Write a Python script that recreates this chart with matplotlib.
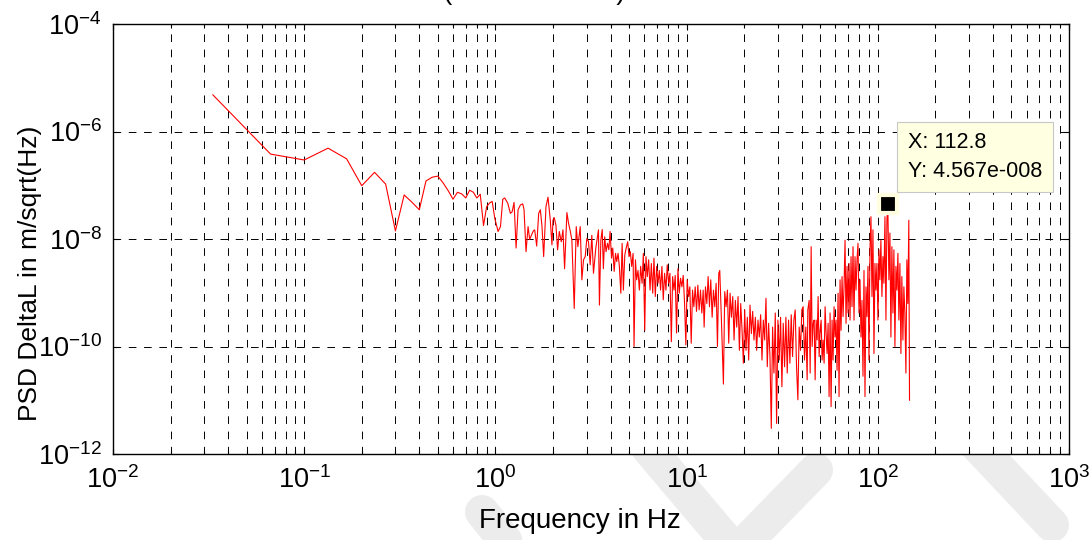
import matplotlib
matplotlib.use('Agg')
import matplotlib.pyplot as plt
from matplotlib.lines import Line2D
from matplotlib.ticker import FixedLocator, FuncFormatter, LogLocator, NullLocator, NullFormatter
import numpy as np

plt.rcParams['font.family'] = ['Liberation Sans', 'DejaVu Sans']
plt.rcParams['mathtext.fontset'] = 'custom'
plt.rcParams['mathtext.rm'] = 'Liberation Sans'
plt.rcParams['mathtext.it'] = 'Liberation Sans:italic'
plt.rcParams['mathtext.bf'] = 'Liberation Sans:bold'
plt.rcParams['lines.scale_dashes'] = False

# spectrum below 1 Hz (bin spacing 1/30 Hz)
freq_low = [0.0333, 0.0667, 0.1, 0.1333, 0.1667, 0.2, 0.2333, 0.2667, 0.3, 0.3333,
            0.3667, 0.4, 0.4333, 0.4667, 0.5, 0.5333, 0.5667, 0.6, 0.6333, 0.6667,
            0.7, 0.7333, 0.7667, 0.8, 0.8333, 0.8667, 0.9, 0.9333]
psd_low = [4.8e-6, 3.8e-7, 2.95e-7, 4.9e-7, 3.1e-7, 9.8e-8, 1.74e-7, 1.05e-7, 1.41e-8, 6.6e-8,
           4.8e-8, 3.5e-8, 1.2e-7, 1.41e-7, 1.48e-7, 1.1e-7, 7.9e-8, 5.5e-8, 7.4e-8, 6.9e-8,
           5.8e-8, 8.1e-8, 7.4e-8, 5.8e-8, 6.8e-8, 1.78e-8, 4.0e-8, 4.7e-8]

# 1 - 3.5 Hz
freq_mid1 = [0.962, 0.993, 1.033, 1.063, 1.093, 1.119, 1.161, 1.198, 1.223, 1.252,
             1.283, 1.314, 1.351, 1.390, 1.412, 1.446, 1.482, 1.511, 1.542, 1.579,
             1.605, 1.644, 1.684, 1.718, 1.753, 1.788, 1.839, 1.884, 1.937, 1.976,
             2.0, 2.032, 2.073, 2.115, 2.158, 2.211, 2.256, 2.301, 2.366, 2.414,
             2.463, 2.512, 2.584, 2.647, 2.700, 2.777, 2.833, 2.890, 2.949, 3.008,
             3.069, 3.131, 3.194, 3.258, 3.351, 3.460]
psd_mid1 = [5.0e-8, 2.4e-8, 1.38e-8, 1.7e-8, 5.5e-8, 5.8e-8, 4.6e-8, 3.0e-8, 3.2e-8, 4.8e-8,
            6.8e-9, 3.5e-8, 4.3e-8, 4.5e-8, 3.5e-8, 5.8e-9, 1.7e-8, 9.8e-9, 1.17e-8, 1.41e-8,
            1.48e-8, 7.4e-9, 3.0e-8, 3.5e-8, 1.7e-8, 4.7e-9, 4.0e-8, 6.0e-8, 2.24e-8, 7.8e-9,
            2.24e-8, 2.5e-8, 1.8e-8, 6.3e-9, 1.38e-8, 8.9e-9, 1.48e-8, 2.8e-9, 3.1e-8, 1.95e-8,
            1.41e-8, 9.5e-9, 5.1e-10, 1.7e-8, 7.2e-9, 1.7e-8, 1.74e-9, 4.1e-9, 4.7e-9, 1.02e-8,
            8.9e-9, 3.3e-9, 1.17e-8, 2.3e-9, 6.8e-9, 1.48e-8]

# 3.5 - 12 Hz
freq_mid2 = [3.50, 3.56, 3.62, 3.67, 3.73, 3.79, 3.86, 3.92, 3.98, 4.05,
             4.11, 4.18, 4.25, 4.31, 4.38, 4.45, 4.53, 4.60, 4.67, 4.75,
             4.83, 4.92, 5.00, 5.08, 5.16, 5.25, 5.31, 5.40, 5.48, 5.57,
             5.66, 5.75, 5.85, 5.94, 6.04, 6.13, 6.23, 6.33, 6.44, 6.54,
             6.65, 6.75, 6.86, 6.97, 7.09, 7.20, 7.31, 7.43, 7.55, 7.67,
             7.80, 7.92, 8.05, 8.18, 8.32, 8.45, 8.59, 8.72, 8.86, 9.01,
             9.15, 9.30, 9.45, 9.60, 9.76, 9.91, 10.07, 10.24, 10.40, 10.57,
             10.74, 10.91, 11.09, 11.27, 11.45, 11.63, 11.82, 12.01, 12.21]
psd_mid2 = [5.9e-10, 9.5e-9, 1.5e-8, 2.8e-9, 1.1e-8, 5.8e-9, 8.3e-9, 6.3e-9, 1.38e-8, 4.4e-9,
            6.8e-9, 2.5e-9, 5.4e-9, 3.8e-9, 5.4e-9, 3.1e-9, 9.8e-10, 8.3e-9, 1.12e-9, 5.0e-9,
            6.8e-9, 8.9e-9, 4.7e-9, 5.8e-9, 3.1e-9, 5.4e-9, 1.0e-10, 4.1e-9, 1.74e-9, 2.6e-9,
            1.12e-9, 3.1e-9, 1.5e-9, 5.4e-9, 2.0e-10, 4.7e-9, 2.0e-9, 4.1e-9, 1.12e-9, 3.5e-9,
            9.8e-10, 4.4e-9, 8.5e-10, 3.1e-9, 1.5e-9, 2.6e-9, 1.12e-9, 3.1e-9, 7.4e-10, 2.3e-9,
            1.12e-9, 3.3e-9, 1.5e-9, 2.3e-9, 1.23e-10, 2.0e-9, 1.12e-9, 2.1e-9, 1.78e-10, 2.8e-9,
            9.8e-10, 1.86e-9, 1.29e-9, 2.1e-9, 6.3e-10, 1.07e-10, 1.74e-9, 8.5e-10, 1.29e-9, 1.15e-10,
            1.12e-9, 5.5e-10, 1.29e-9, 4.5e-10, 1.38e-9, 4.8e-10, 1.12e-9, 4.2e-10, 1.12e-9]

# 12 - 43 Hz
freq_high1 = [12.35, 12.55, 12.76, 12.96, 13.17, 13.38, 13.60, 13.82, 14.04, 14.27,
              14.50, 14.73, 14.91, 15.21, 15.58, 15.83, 16.09, 16.35, 16.61, 16.88,
              17.15, 17.43, 17.71, 17.99, 18.29, 18.58, 18.88, 19.19, 19.50, 19.81,
              20.13, 20.45, 20.78, 21.12, 21.46, 21.81, 22.16, 22.51, 22.88, 23.25,
              23.62, 24.00, 24.39, 24.79, 25.19, 25.59, 26.01, 26.42, 26.85, 27.29,
              27.73, 28.17, 28.63, 29.09, 29.56, 30.04, 30.52, 31.01, 31.51, 32.02,
              32.54, 33.06, 33.60, 34.14, 34.69, 35.25, 35.82, 36.40, 36.98, 37.58,
              38.19, 38.80, 39.43, 40.06, 40.71, 41.37, 42.03, 42.71, 43.05]
psd_high1 = [2.3e-10, 1.29e-9, 6.3e-10, 2.0e-9, 5.5e-10, 1.74e-9, 3.5e-10, 1.12e-9, 5.5e-10, 1.5e-9,
             1.0e-10, 2.3e-9, 2.6e-9, 3.1e-10, 2.0e-11, 1.05e-9, 5.5e-10, 1.12e-9, 1.15e-10, 9.8e-10,
             3.5e-10, 8.5e-10, 1.32e-10, 7.2e-10, 2.3e-10, 8.5e-10, 8.5e-11, 6.3e-10, 2.0e-10, 4.9e-11,
             4.8e-10, 8.5e-11, 3.5e-10, 5.6e-11, 5.9e-10, 1.74e-10, 4.5e-10, 1.32e-10, 3.5e-10, 8.5e-11,
             3.1e-10, 1.5e-10, 3.9e-10, 5.6e-11, 3.1e-10, 1.32e-10, 7.9e-10, 4.2e-11, 2.7e-10, 6.5e-11,
             3.0e-12, 2.3e-10, 3.2e-11, 4.2e-10, 3.7e-12, 3.1e-10, 5.6e-11, 3.5e-10, 1.78e-11, 2.7e-10,
             4.2e-11, 3.5e-10, 3.2e-11, 3.1e-10, 4.9e-11, 3.9e-10, 6.5e-11, 3.1e-10, 4.8e-10, 4.2e-11,
             1.02e-11, 2.3e-10, 8.5e-11, 4.8e-10, 5.5e-10, 5.6e-11, 2.3e-10, 2.4e-11, 4.8e-10]

# 43 - 146 Hz
freq_high2 = [43.75, 44.28, 44.81, 45.35, 45.90, 46.46, 47.02, 47.59, 48.16, 48.74,
              49.33, 49.92, 50.53, 51.14, 51.76, 52.38, 53.01, 53.65, 54.30, 54.96,
              55.62, 56.29, 56.97, 57.66, 58.35, 59.06, 59.77, 60.50, 61.23, 61.97,
              62.71, 63.47, 64.24, 65.01, 65.80, 66.59, 67.40, 68.21, 69.04, 69.87,
              70.72, 71.57, 72.44, 73.31, 74.20, 75.09, 76.00, 76.92, 77.85, 78.78,
              79.74, 80.70, 81.68, 82.66, 83.66, 84.68, 85.70, 86.73, 87.78, 88.84,
              89.92, 91.00, 92.10, 93.22, 94.34, 95.48, 96.63, 97.79, 98.97, 100.2,
              101.4, 102.6, 103.8, 105.1, 106.4, 107.6, 109.0, 110.3, 111.6, 112.8,
              114.3, 115.7, 117.1, 118.5, 120.0, 121.4, 122.9, 124.4, 125.9, 127.4,
              128.9, 130.5, 132.1, 133.6, 135.3, 136.9, 138.5, 140.3, 141.9, 143.6,
              145.3, 146.5]
psd_high2 = [7.2e-10, 3.2e-11, 7.2e-9, 1.0e-10, 2.7e-10, 3.1e-10, 2.4e-11, 3.1e-10, 1.32e-10, 8.5e-10,
             6.5e-11, 2.0e-10, 3.1e-10, 5.6e-11, 1.32e-10, 4.9e-11, 5.5e-10, 1.78e-10, 7.4e-11, 2.7e-10,
             1.17e-11, 4.2e-10, 7.6e-12, 3.1e-10, 5.6e-11, 5.5e-10, 1.5e-10, 3.1e-10, 3.6e-11, 9.8e-10,
             1.17e-11, 1.74e-9, 2.0e-10, 2.0e-9, 3.6e-10, 1.29e-9, 9.5e-9, 2.7e-10, 3.1e-9, 4.2e-10,
             3.5e-9, 3.1e-10, 4.7e-9, 5.5e-10, 7.2e-9, 3.1e-10, 4.7e-9, 1.12e-9, 4.1e-9, 8.3e-9,
             4.2e-10, 1.74e-9, 1.5e-10, 7.2e-10, 2.8e-11, 2.6e-9, 1.17e-11, 1.29e-9, 3.6e-10, 3.1e-9,
             5.6e-11, 6.3e-9, 2.6e-8, 8.5e-10, 1.48e-8, 7.4e-11, 3.5e-9, 1.12e-9, 3.5e-9, 3.1e-10,
             6.3e-9, 1.74e-9, 9.5e-9, 8.5e-10, 4.7e-9, 1.5e-9, 2.6e-8, 3.1e-10, 2.24e-8, 4.567e-8,
             1.74e-9, 1.29e-8, 1.5e-10, 7.2e-9, 4.2e-10, 6.3e-9, 1.0e-10, 3.1e-9, 1.12e-9, 5.4e-9,
             3.1e-10, 3.5e-9, 7.4e-11, 2.0e-9, 1.32e-10, 1.29e-9, 4.2e-10, 3.2e-11, 4.1e-9, 6.3e-10,
             2.24e-8, 1.0e-11]

# data cursor
tip_f = 112.8
tip_psd = 4.567e-8

freq = np.array(freq_low + freq_mid1 + freq_mid2 + freq_high1 + freq_high2)
psd = np.array(psd_low + psd_mid1 + psd_mid2 + psd_high1 + psd_high2)

W, H = 1092, 540
fig = plt.figure(figsize=(W / 100, H / 100), dpi=100)
fig.patch.set_facecolor('white')

# grey watermark strokes behind the axes
band = dict(color='#ececec', lw=24.5, solid_capstyle='round', solid_joinstyle='round', zorder=-1)
for xs, ys in [([482, 545], [512, 590]),
               ([648, 736, 816], [448, 552, 470]),
               ([972, 1052], [440, 525])]:
    fig.add_artist(Line2D([x / W for x in xs], [1 - y / H for y in ys],
                          transform=fig.transFigure, **band))

ax = fig.add_axes([113 / W, 86 / H, 956 / W, 430 / H])
ax.set_xscale('log')
ax.set_yscale('log')
ax.set_xlim(1e-2, 1e3)
ax.set_ylim(1e-12, 1e-4)

ax.plot(freq, psd, color='#ff0000', lw=0.8, zorder=3)

ax.xaxis.set_major_locator(LogLocator(base=10, numticks=10))
ax.xaxis.set_minor_locator(LogLocator(base=10, subs=np.arange(2, 10), numticks=20))
ax.xaxis.set_minor_formatter(NullFormatter())
ax.yaxis.set_major_locator(FixedLocator([1e-12, 1e-10, 1e-8, 1e-6, 1e-4]))
ax.yaxis.set_minor_locator(NullLocator())

pow_fmt = FuncFormatter(lambda v, p: r'$\mathregular{10^{%d}}$' % round(np.log10(v)))
ax.xaxis.set_major_formatter(pow_fmt)
ax.yaxis.set_major_formatter(pow_fmt)

dash = (0, (5.5, 5.5))
ax.xaxis.grid(True, which='both', ls=dash, color='k', lw=0.7)
ax.yaxis.grid(True, which='major', ls=dash, color='k', lw=0.7)
ax.set_axisbelow(True)

ax.tick_params(which='both', direction='in', top=True, right=True, color='k', labelsize=19.5)
ax.tick_params(which='major', length=4.5, width=0.8)
ax.tick_params(which='minor', length=3, width=0.8)
ax.tick_params(axis='x', pad=9)
ax.tick_params(axis='y', pad=8)
for s in ax.spines.values():
    s.set_linewidth(1.0)

ax.set_xlabel('Frequency in Hz', fontsize=20)
ax.xaxis.set_label_coords(0.4885, -0.125)
ax.set_ylabel('PSD DeltaL in m/sqrt(Hz)', fontsize=19, va='center')
ax.yaxis.set_label_coords(-0.087, 0.42)

# title sits almost entirely above the top edge of the figure
fig.text(550 / W, 1.0, 'Standard (0.0333333 Hz) PSD DeltaL', fontsize=19,
         ha='center', va='baseline')

# data tip
ax.plot([tip_f], [tip_psd], marker='s', ms=13, mfc='k', mec='#ffffe0', mew=3, zorder=5,
        clip_on=False)
mant, expo = ('%.3e' % tip_psd).split('e')
tip_text = 'X: %.1f\nY: %se%s%03d' % (tip_f, mant, '-' if int(expo) < 0 else '+', abs(int(expo)))
ax.annotate(tip_text, xy=(tip_f, tip_psd), xytext=(20, 22), textcoords='offset pixels',
            ha='left', va='bottom', fontsize=15.5, linespacing=1.45, zorder=6,
            bbox=dict(boxstyle='square,pad=0.5', fc='#ffffe1', ec='#c8c8c8', lw=0.8))

fig.savefig('out.png', dpi=100)
